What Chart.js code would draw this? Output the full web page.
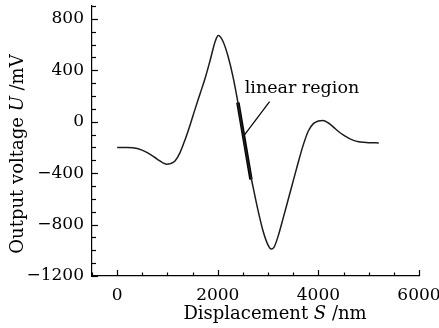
<!DOCTYPE html>
<html>
<head>
<meta charset="utf-8">
<script src="https://cdn.jsdelivr.net/npm/chart.js@4.4.1/dist/chart.umd.min.js"></script>
<style>
  body { margin: 0; background: #fff; }
  #wrap { width: 439px; height: 328px; }
</style>
</head>
<body>
<div id="wrap"><canvas id="myChart" width="439" height="328"></canvas></div>
<script>
const dispX = [0, 200, 400, 600, 800, 900, 980, 1060, 1150, 1250, 1350, 1450, 1550, 1650, 1750, 1850, 1950, 2010,
    2100, 2200, 2300, 2400, 2500, 2600, 2700, 2800, 2900, 3000, 3060, 3120, 3200, 3300, 3400, 3500,
    3600, 3700, 3800, 3900, 4000, 4090, 4200, 4300, 4400, 4500, 4600, 4700, 4800, 4900, 5000, 5200];
const voltY = [-200, -200, -208, -240, -292, -318, -330, -326, -305, -240, -140, -25, 100, 220, 340, 480, 625, 670,
    628, 515, 355, 150, -90, -315, -505, -690, -850, -960, -990, -975, -890, -750, -605, -460,
    -315, -180, -72, -15, 5, 10, -10, -42, -76, -104, -128, -145, -155, -160, -163, -165];

// thick "linear region" segment and its leader line
const linearX = [2400, 2660];
const linearY = [150, -450];
const leaderX = [3030, 2535];
const leaderY = [156, -100];

const xTicks = [0, 2000, 4000, 6000];
const yTicks = [-1200, -800, -400, 0, 400, 800];

const FONT = "'DejaVu Serif', 'Liberation Serif', serif";

function pts(xs, ys) {
    return xs.map((x, i) => ({ x: x, y: ys[i] }));
}
function fmt(v) {
    return String(v).replace('-', '\u2212');
}

// draws a line of text with some parts in italic
function richText(ctx, parts, x, y, size) {
    let total = 0;
    parts.forEach(p => {
        ctx.font = (p[1] ? 'italic ' : '') + size + 'px ' + FONT;
        total += ctx.measureText(p[0]).width;
    });
    let cx = x - total / 2;
    parts.forEach(p => {
        ctx.font = (p[1] ? 'italic ' : '') + size + 'px ' + FONT;
        ctx.fillText(p[0], cx, y);
        cx += ctx.measureText(p[0]).width;
    });
}

const decor = {
    id: 'decor',
    afterDraw(chart) {
        const ctx = chart.ctx;
        const area = chart.chartArea;
        const sx = chart.scales.x;
        const sy = chart.scales.y;
        ctx.save();
        ctx.strokeStyle = '#000';
        ctx.lineWidth = 1.2;
        // inward ticks
        sx.ticks.forEach(t => {
            const px = Math.round(sx.getPixelForValue(t.value)) + 0.5;
            const len = xTicks.includes(t.value) ? 6 : 3.5;
            ctx.beginPath();
            ctx.moveTo(px, area.bottom);
            ctx.lineTo(px, area.bottom - len);
            ctx.stroke();
        });
        sy.ticks.forEach(t => {
            const py = Math.round(sy.getPixelForValue(t.value)) + 0.5;
            const len = yTicks.includes(t.value) ? 6 : 4;
            ctx.beginPath();
            ctx.moveTo(area.left, py);
            ctx.lineTo(area.left + len, py);
            ctx.stroke();
        });

        ctx.fillStyle = '#000';
        ctx.textBaseline = 'alphabetic';
        ctx.textAlign = 'left';
        // axis titles
        richText(ctx, [['Displacement ', false], ['S', true], [' /nm', false]], 275, 319, 18);
        ctx.save();
        ctx.translate(23, 154);
        ctx.rotate(-Math.PI / 2);
        richText(ctx, [['Output voltage ', false], ['U', true], [' /mV', false]], 0, 0, 18);
        ctx.restore();
        // annotation
        ctx.font = '17.5px ' + FONT;
        ctx.fillText('linear region', sx.getPixelForValue(2535), sy.getPixelForValue(226));
        ctx.restore();
    }
};

var ctx = document.getElementById('myChart').getContext('2d');
var chart = new Chart(ctx, {
    type: 'line',
    data: {
        datasets: [
            {
                label: 'curve',
                data: pts(dispX, voltY),
                borderColor: '#1c1c1c',
                borderWidth: 1.5,
                pointRadius: 0,
                cubicInterpolationMode: 'monotone'
            },
            {
                label: 'linear',
                data: pts(linearX, linearY),
                borderColor: '#000',
                borderWidth: 3.5,
                pointRadius: 0
            },
            {
                label: 'leader',
                data: pts(leaderX, leaderY),
                borderColor: '#000',
                borderWidth: 1.2,
                pointRadius: 0
            }
        ]
    },
    options: {
        responsive: false,
        animation: false,
        devicePixelRatio: 1,
        layout: { padding: { left: 0, top: 6, right: 20, bottom: 0 } },
        plugins: {
            legend: { display: false },
            tooltip: { enabled: false }
        },
        scales: {
            x: {
                type: 'linear',
                min: -500,
                max: 6000,
                grid: { drawOnChartArea: false, drawTicks: false },
                border: { display: true, color: '#000', width: 1.2 },
                ticks: {
                    stepSize: 500,
                    autoSkip: false,
                    maxRotation: 0,
                    padding: 9,
                    color: '#000',
                    font: { family: FONT, size: 17 },
                    callback: v => xTicks.includes(v) ? fmt(v) : ''
                },
                afterFit: s => { s.height = 52; s.paddingLeft = 0; s.paddingRight = 0; }
            },
            y: {
                min: -1200,
                max: 900,
                grid: { drawOnChartArea: false, drawTicks: false },
                border: { display: true, color: '#000', width: 1.2 },
                ticks: {
                    stepSize: 100,
                    autoSkip: false,
                    padding: 8,
                    color: '#000',
                    font: { family: FONT, size: 17 },
                    callback: v => yTicks.includes(v) ? fmt(v) : ''
                },
                afterFit: s => { s.width = 92; s.paddingTop = 0; s.paddingBottom = 0; }
            }
        }
    },
    plugins: [decor]
});
</script>
</body>
</html>
